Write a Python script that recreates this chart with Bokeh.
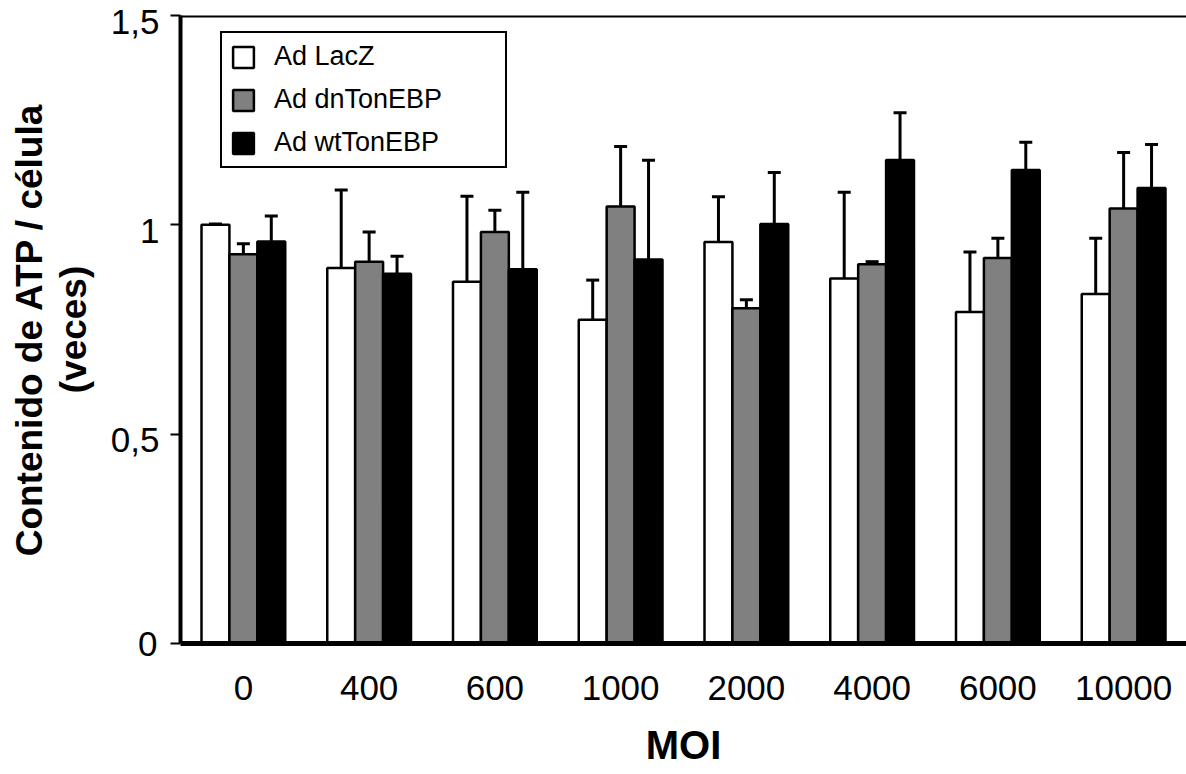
from bokeh.plotting import figure
from bokeh.models import (ColumnDataSource, FactorRange, Range1d, FixedTicker, Whisker,
                          TeeHead, Title, Legend, LegendItem, Span, LinearAxis)
from bokeh.transform import dodge
from bokeh.embed import file_html
from bokeh.resources import INLINE

# ---- data ----
moi = ["0", "400", "600", "1000", "2000", "4000", "6000", "10000"]
lacz = [1.0, 0.897, 0.864, 0.773, 0.959, 0.872, 0.792, 0.835]
lacz_err = [0.002, 0.186, 0.204, 0.095, 0.108, 0.206, 0.143, 0.133]
dn = [0.930, 0.912, 0.983, 1.044, 0.801, 0.906, 0.921, 1.039]
dn_err = [0.025, 0.071, 0.052, 0.143, 0.020, 0.006, 0.047, 0.134]
wt = [0.960, 0.883, 0.894, 0.917, 1.002, 1.155, 1.131, 1.088]
wt_err = [0.061, 0.042, 0.184, 0.237, 0.123, 0.113, 0.066, 0.104]
series_names = ["Ad LacZ", "Ad dnTonEBP", "Ad wtTonEBP"]
y_ticks = [0, 0.5, 1, 1.5]
y_tick_labels = ["0", "0,5", "1", "1,5"]

FONT = "Liberation Sans"
FRAME_H = 628
SHIFT = 6 / FRAME_H * 1.5  # upper tick labels sit a few pixels below their tick

src = ColumnDataSource(dict(
    moi=moi,
    lacz=lacz, lacz_hi=[v + e for v, e in zip(lacz, lacz_err)],
    dn=dn, dn_hi=[v + e for v, e in zip(dn, dn_err)],
    wt=wt, wt_hi=[v + e for v, e in zip(wt, wt_err)],
))

p = figure(width=1186, height=774, x_range=FactorRange(*moi, range_padding=0),
           y_range=Range1d(0, 1.5), output_backend="svg", toolbar_location=None,
           min_border_left=180, min_border_right=0, min_border_top=15, min_border_bottom=131)
p.x_range.factor_padding = 0
p.outline_line_color = None
p.grid.visible = False
p.background_fill_color = "white"
p.border_fill_color = "white"

W = 0.222
colors = ["white", "#808080", "black"]
cols = ["lacz", "dn", "wt"]
offs = [-W, 0.0, W]
renderers = []
for c, col, off in zip(cols, colors, offs):
    r = p.vbar(x=dodge("moi", off, range=p.x_range), top=c, width=W, bottom=0, source=src,
               fill_color=col, line_color="black", line_width=2.5)
    renderers.append(r)

for c, off in zip(cols, offs):
    wk = Whisker(base=dodge("moi", off, range=p.x_range), lower=c, upper=c + "_hi", source=src,
                 line_color="black", line_width=3,
                 upper_head=TeeHead(size=13, line_color="black", line_width=3),
                 lower_head=None, level="overlay")
    p.add_layout(wk)

# top border
p.add_layout(Span(location=1.5, dimension="width", line_color="black", line_width=4))

# y axis: ticks and the "0" label
ya = p.yaxis[0]
ya.ticker = FixedTicker(ticks=y_ticks)
ya.major_label_overrides = {t: (l if t == 0 else "") for t, l in zip(y_ticks, y_tick_labels)}
ya.major_label_text_font = FONT
ya.major_label_text_font_size = "35px"
ya.major_label_text_color = "black"
ya.minor_tick_line_color = None
ya.major_tick_in = 0
ya.major_tick_out = 10
ya.major_tick_line_width = 2
ya.axis_line_width = 4
ya.major_label_standoff = 13

# y axis: remaining labels (slightly lowered) + second line of the axis title
p.extra_y_ranges = {"lab": Range1d(SHIFT, 1.5 + SHIFT)}
yl = LinearAxis(y_range_name="lab", ticker=FixedTicker(ticks=y_ticks[1:]),
                axis_line_color=None, major_tick_line_color=None, minor_tick_line_color=None,
                major_label_overrides={t: l for t, l in zip(y_ticks, y_tick_labels)},
                major_label_text_font=FONT, major_label_text_font_size="35px",
                major_label_text_color="black", major_label_standoff=-30,
                axis_label="(veces)", axis_label_text_font=FONT, axis_label_text_font_size="37px",
                axis_label_text_font_style="bold", axis_label_text_color="black",
                axis_label_standoff=14)
p.add_layout(yl, "left")

t1 = Title(text="Contenido de ATP / célula", align="center", text_font=FONT,
           text_font_size="37px", text_font_style="bold", text_color="black", standoff=0)
p.add_layout(t1, "left")

# x axis
xa = p.xaxis[0]
xa.major_tick_line_color = None
xa.axis_line_width = 5
xa.major_label_text_font = FONT
xa.major_label_text_font_size = "35px"
xa.major_label_standoff = 26
xa.major_label_text_color = "black"
xa.axis_label = "MOI"
xa.axis_label_text_font = FONT
xa.axis_label_text_font_size = "40px"
xa.axis_label_text_font_style = "bold"
xa.axis_label_text_color = "black"
xa.axis_label_standoff = 20

legend = Legend(items=[LegendItem(label=n, renderers=[r]) for n, r in zip(series_names, renderers)],
                location=(40, 475), orientation="vertical",
                border_line_color="black", border_line_width=2, border_line_alpha=1,
                background_fill_alpha=1,
                label_text_font=FONT, label_text_font_size="27px", label_text_color="black",
                glyph_width=26, glyph_height=26, label_height=27, label_standoff=18,
                spacing=12, padding=8, margin=0, label_width=223)
p.add_layout(legend)

open("out.html", "w").write(file_html(p, INLINE))
